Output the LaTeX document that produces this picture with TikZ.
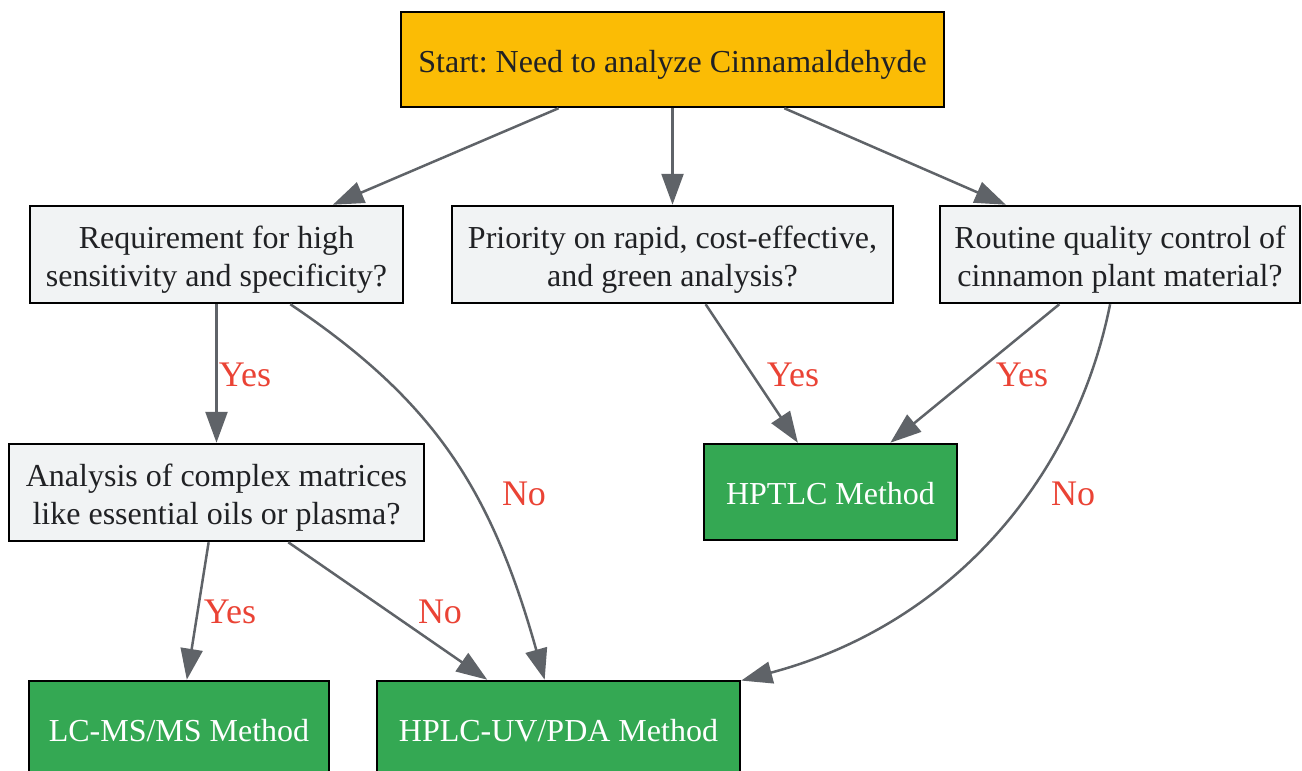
\documentclass[tikz,border=0pt]{standalone}
\usepackage{fontspec}
\setmainfont{Liberation Serif}
\usepackage{xcolor}
\usetikzlibrary{positioning,arrows.meta}
\frenchspacing

\definecolor{startyellow}{HTML}{FBBC05}
\definecolor{qgray}{HTML}{F1F3F4}
\definecolor{methodgreen}{HTML}{34A853}
\definecolor{edgegray}{HTML}{5F6368}
\definecolor{labelred}{HTML}{EA4335}
\definecolor{textdark}{HTML}{202124}

% top strut for the first line of a box
\newcommand{\qtop}{\rule{0pt}{32pt}}

\begin{document}
\begin{tikzpicture}[
    x=1pt, y=-1pt,
    box/.style={rectangle, draw=black, line width=2.5pt, fill=qgray, text=textdark, align=center, minimum height=97pt, inner sep=0pt, font=\fontsize{32}{38}\selectfont},
    single/.style={execute at begin node={\qtop}, execute at end node={\rule[-7pt]{0pt}{7pt}}},
    method/.style={box, single, fill=methodgreen, text=white, minimum height=96pt},
    boxw/.style={minimum width=#1pt},
    arrow/.style={-{Triangle[length=31pt,width=22pt]}, line width=2.5pt, edgegray},
    lbl/.style={inner sep=0pt, text=labelred, font=\fontsize{36}{40}\selectfont}
]
    \clip (0,0) rectangle (1302,771);

    % Start
    \node[box, single, fill=startyellow, boxw=543, minimum height=95pt] (start) at (672.5,59.5) {Start: Need to analyze Cinnamaldehyde};

    % Questions
    \node[box, boxw=373] (sens) at (216.5,254.5) {\qtop Requirement for high\\sensitivity and specificity?};
    \node[box, boxw=441] (green) at (672.5,254.5) {\qtop Priority on rapid, cost-effective,\\and green analysis?};
    \node[box, boxw=360] (routine) at (1120,254.5) {\qtop Routine quality control of\\cinnamon plant material?};
    \node[box, boxw=415] (matrix) at (216.5,492.5) {\qtop Analysis of complex matrices\\like essential oils or plasma?};

    % Methods
    \node[method, boxw=253] (hptlc) at (830.5,492) {HPTLC Method};
    \node[method, boxw=300] (lcms) at (179,729) {LC-MS/MS Method};
    \node[method, boxw=363] (hplc) at (558.5,729) {HPLC-UV/PDA Method};

    % Arrows
    \draw[arrow] (start) -- (sens);
    \draw[arrow] (start) -- (green);
    \draw[arrow] (start) -- (routine);
    \draw[arrow] (sens) -- (matrix);
    \draw[arrow] (sens) .. controls (434,401) and (491,489) .. (hplc);
    \draw[arrow] (green) -- (hptlc);
    \draw[arrow] (routine) -- (hptlc);
    \draw[arrow] (routine) .. controls (1075,480) and (950,625) .. (hplc);
    \draw[arrow] (matrix) -- (lcms);
    \draw[arrow] (matrix) -- (hplc);

    % Labels
    \node[lbl] (sensyes) at (245,375) {Yes};
    \node[lbl] (sensno) at (524,494) {No};
    \node[lbl] (greenyes) at (793,375) {Yes};
    \node[lbl] (routineyes) at (1022,375) {Yes};
    \node[lbl] (routineno) at (1073,494) {No};
    \node[lbl] (matrixyes) at (230,612) {Yes};
    \node[lbl] (matrixno) at (440,612) {No};
\end{tikzpicture}
\end{document}
